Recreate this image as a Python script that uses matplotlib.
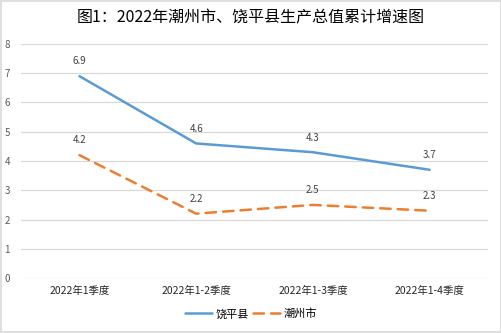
import matplotlib
matplotlib.use("Agg")
import matplotlib.pyplot as plt
from matplotlib.patches import Rectangle

plt.rcParams['font.family'] = ['Noto Sans CJK SC', 'DejaVu Sans']

categories = ['2022年1季度', '2022年1-2季度', '2022年1-3季度', '2022年1-4季度']
raoping = [6.9, 4.6, 4.3, 3.7]
chaozhou = [4.2, 2.2, 2.5, 2.3]
series_names = ['饶平县', '潮州市']
yticks = [0, 1, 2, 3, 4, 5, 6, 7, 8]
title = '图1：2022年潮州市、饶平县生产总值累计增速图'

fig = plt.figure(figsize=(5.02, 3.33), dpi=100)
fig.patches.append(Rectangle((0.002, 0.003), 0.996, 0.994, transform=fig.transFigure,
                             fill=False, edgecolor='#D9D9D9', linewidth=1.2))
ax = fig.add_axes([0.042, 0.165, 0.930, 0.703])

x = list(range(len(categories)))
ax.plot(x, raoping, color='#5B9BD5', linewidth=1.8, label=series_names[0], solid_capstyle='round')
ax.plot(x, chaozhou, color='#ED7D31', linewidth=1.8, linestyle=(0, (4.2, 2.8)),
        dash_capstyle='round', label=series_names[1])

for xi, v in zip(x, raoping):
    ax.annotate(f'{v}', (xi, v), xytext=(0, 7), textcoords='offset points', ha='center',
                va='bottom', fontsize=7, color='#404040')
for xi, v in zip(x, chaozhou):
    ax.annotate(f'{v}', (xi, v), xytext=(0, 7), textcoords='offset points', ha='center',
                va='bottom', fontsize=7, color='#404040')

ax.set_xlim(-0.5, len(categories) - 0.5)
ax.set_ylim(0, 8)
ax.set_yticks(yticks)
ax.set_yticklabels([str(t) for t in yticks], fontsize=7, color='#595959')
ax.set_xticks(x)
ax.set_xticklabels(categories, fontsize=7.5, color='#262626')
ax.tick_params(axis='both', length=0)
ax.tick_params(axis='y', pad=8)
ax.tick_params(axis='x', pad=6)
ax.grid(axis='y', color='#D9D9D9', linewidth=0.9)
ax.set_axisbelow(True)
for s in ax.spines.values():
    s.set_visible(False)

fig.text(0.5, 0.945, title, ha='center', va='center', fontsize=11.5, color='#000000')

fig.legend(loc='center', bbox_to_anchor=(0.5, 0.057), ncol=2, frameon=False, fontsize=8,
           handlelength=2.4, columnspacing=0.4, handletextpad=0.3)

fig.savefig('out.png', dpi=100)
